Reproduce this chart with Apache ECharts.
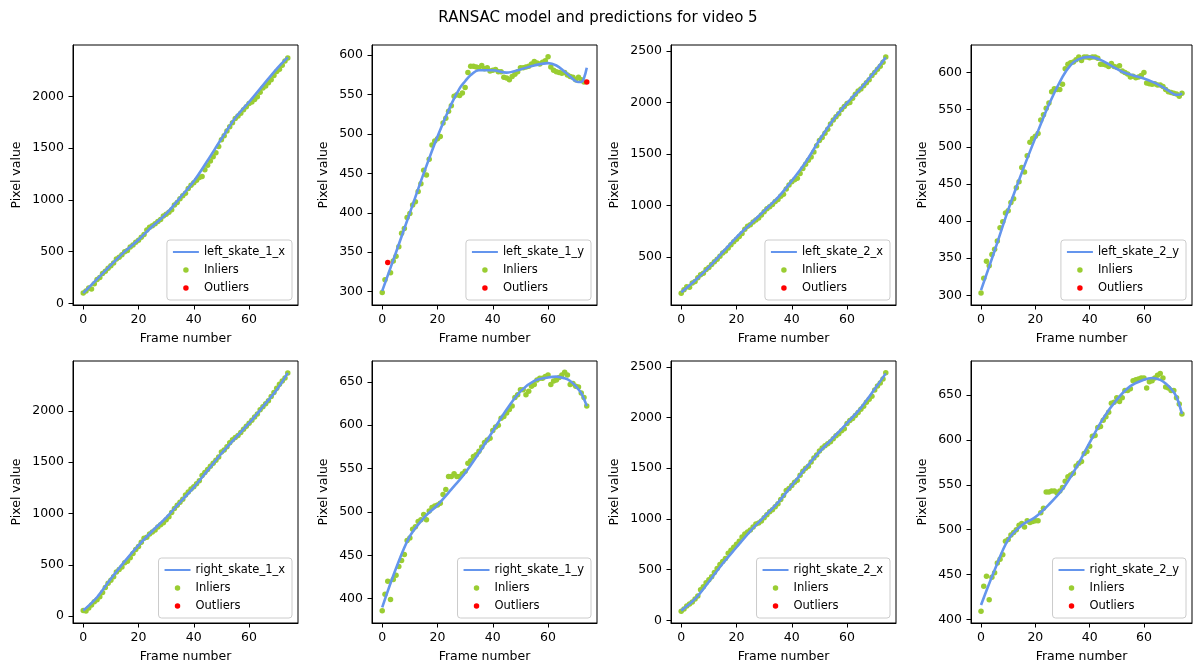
<!DOCTYPE html>
<html><head><meta charset="utf-8">
<script src="https://cdn.jsdelivr.net/npm/echarts@6/dist/echarts.min.js"></script>
<style>html,body{margin:0;padding:0;background:#fff}#c{width:1196px;height:667px}</style>
</head><body><div id="c"></div>
<script>
// ---------- DATA ----------
const titleText = 'RANSAC model and predictions for video 5';
const frames = [0,1,2,3,4,5,6,7,8,9,10,11,12,13,14,15,16,17,18,19,20,21,22,23,24,25,26,27,28,29,30,31,32,33,34,35,36,37,38,39,40,41,42,43,44,45,46,47,48,49,50,51,52,53,54,55,56,57,58,59,60,61,62,63,64,65,66,67,68,69,70,71,72,73,74];
const xTicks = [0,20,40,60];
const fitXStd = [0,5,10,15,20,25,30,35,40,45,50,55,60,65,70,74];

// left_skate_1_x
const ls1x_pts = [100,120,150,140,190,230,250,290,310,340,365,390,430,445,470,500,510,545,565,590,610,640,665,710,735,750,770,790,810,845,860,880,905,950,975,1010,1040,1065,1110,1140,1165,1190,1215,1225,1290,1335,1375,1415,1455,1515,1580,1620,1665,1705,1745,1785,1810,1835,1870,1900,1930,1945,1970,1995,2040,2080,2100,2130,2160,2200,2240,2260,2300,2340,2370];
const ls1x_out = [];
const ls1x_fitX = fitXStd;
const ls1x_fit = [100,235,370,500,615,745,865,1020,1180,1380,1590,1790,1945,2105,2265,2375];
const ls1x_ticks = [0,500,1000,1500,2000];

// left_skate_1_y
const ls1y_pts = [299,315,337,324,339,345,357,374,380,394,399,410,414,427,437,454,448,468,486,491,494,497,514,520,529,536,548,550,549,552,559,578,586,586,585,584,587,583,584,580,581,582,579,579,572,571,569,573,576,579,584,584,585,586,589,592,590,589,591,593,598,585,581,579,578,577,578,575,573,572,569,572,569,566,566];
const ls1y_out = [2,74];
const ls1y_fitX = [0,5,10,15,20,25,28,30,32,35,40,45,50,55,60,63,66,68,70,71,72,73,74];
const ls1y_fit = [301,350,400,450,497,538,558,567,575,581,581,578,582,587,590,587,579,573,567,566,566,571,584];
const ls1y_ticks = [300,350,400,450,500,550,600];

// left_skate_2_x
const ls2x_pts = [150,185,215,210,250,265,300,330,345,380,400,430,455,480,510,540,560,590,620,650,675,700,730,770,800,815,840,860,880,910,940,970,990,1010,1040,1060,1090,1110,1160,1200,1230,1250,1265,1310,1360,1400,1440,1470,1520,1580,1630,1660,1700,1740,1790,1830,1860,1890,1930,1960,1990,2000,2040,2080,2110,2130,2160,2190,2220,2260,2290,2320,2350,2390,2440];
const ls2x_out = [];
const ls2x_fitX = fitXStd;
const ls2x_fit = [160,275,404,548,693,821,949,1080,1240,1420,1635,1832,1993,2137,2298,2436];
const ls2x_ticks = [500,1000,1500,2000,2500];

// left_skate_2_y
const ls2y_pts = [303,323,346,340,355,362,373,391,399,411,414,425,430,445,453,472,466,488,506,511,514,518,536,543,552,559,574,578,577,577,584,605,611,613,614,617,621,616,621,621,620,621,621,619,611,611,610,608,612,608,607,609,602,600,598,594,595,593,594,596,600,586,585,584,585,583,583,581,577,574,573,572,571,568,572];
const ls2y_out = [];
const ls2y_fitX = [0,5,10,15,20,25,30,33,36,40,44,48,52,56,60,64,68,71,72,73,74];
const ls2y_fit = [307,360,415,465,512,557,594,610,618,621,617,609,601,596,592,586,578,571,570,570,572];
const ls2y_ticks = [300,350,400,450,500,550,600];

// right_skate_1_x
const rs1x_pts = [55,50,80,110,140,160,190,230,280,320,350,385,430,455,480,520,535,570,610,650,680,720,760,770,800,820,840,870,890,910,940,970,1010,1050,1080,1110,1140,1180,1210,1240,1260,1290,1320,1370,1400,1430,1460,1490,1520,1550,1600,1620,1650,1690,1720,1740,1760,1790,1820,1850,1880,1910,1940,1970,2010,2040,2070,2100,2140,2180,2220,2260,2290,2320,2370];
const rs1x_out = [];
const rs1x_fitX = fitXStd;
const rs1x_fit = [55,185,365,535,690,830,960,1110,1255,1420,1585,1735,1880,2040,2205,2370];
const rs1x_ticks = [0,500,1000,1500,2000];

// right_skate_1_y
const rs1y_pts = [386,405,420,399,422,427,437,444,451,467,470,480,483,489,491,497,491,501,505,507,508,510,520,526,541,541,544,541,541,544,547,556,559,564,566,570,575,580,583,585,594,598,600,608,610,614,618,622,632,635,641,641,635,639,645,647,652,654,654,656,658,647,651,652,655,658,661,658,647,648,645,644,637,632,622];
const rs1y_out = [];
const rs1y_fitX = [0,5,10,15,20,25,30,35,40,45,50,55,60,63,66,68,70,72,74];
const rs1y_fit = [390,435,472,493,508,526,545,568,593,618,639,651,655,656,654,651,645,637,622];
const rs1y_ticks = [400,450,500,550,600,650];

// right_skate_2_x
const rs2x_pts = [90,110,140,160,180,210,240,300,330,370,400,430,470,510,550,580,610,660,690,720,750,780,820,850,870,890,920,950,960,980,1010,1040,1070,1090,1120,1150,1190,1230,1280,1300,1330,1360,1380,1430,1470,1500,1520,1560,1600,1630,1670,1700,1720,1740,1760,1790,1820,1840,1870,1890,1940,1970,1990,2020,2050,2080,2110,2150,2180,2210,2270,2310,2340,2380,2440];
const rs2x_out = [];
const rs2x_fitX = fitXStd;
const rs2x_fit = [95,210,380,560,720,880,1020,1160,1330,1500,1660,1800,1945,2095,2280,2435];
const rs2x_ticks = [0,500,1000,1500,2000,2500];

// right_skate_2_y
const rs2y_pts = [409,437,448,422,447,452,463,467,472,487,489,494,497,500,505,507,503,510,508,509,510,510,519,524,542,542,543,543,541,543,547,554,559,561,563,571,574,576,585,587,593,604,605,614,615,622,626,631,641,642,647,643,647,655,655,657,666,667,668,669,669,658,665,666,669,672,674,669,659,658,655,655,647,640,629];
const rs2y_out = [];
const rs2y_fitX = [0,5,10,15,20,25,30,35,40,45,50,55,60,63,66,68,70,72,74];
const rs2y_fit = [416,455,489,505,514,528,545,569,597,624,645,660,667,669,667,663,657,648,629];
const rs2y_ticks = [400,450,500,550,600,650];

// ---------- PANELS ----------
const panels = [
  {name:'left_skate_1_x',  pts:ls1x_pts, out:ls1x_out, fx:ls1x_fitX, fy:ls1x_fit, ticks:ls1x_ticks, ymin:-15,  ymax:2495},
  {name:'left_skate_1_y',  pts:ls1y_pts, out:ls1y_out, fx:ls1y_fitX, fy:ls1y_fit, ticks:ls1y_ticks, ymin:283,  ymax:613},
  {name:'left_skate_2_x',  pts:ls2x_pts, out:ls2x_out, fx:ls2x_fitX, fy:ls2x_fit, ticks:ls2x_ticks, ymin:37,   ymax:2556},
  {name:'left_skate_2_y',  pts:ls2y_pts, out:ls2y_out, fx:ls2y_fitX, fy:ls2y_fit, ticks:ls2y_ticks, ymin:287,  ymax:637},
  {name:'right_skate_1_x', pts:rs1x_pts, out:rs1x_out, fx:rs1x_fitX, fy:rs1x_fit, ticks:rs1x_ticks, ymin:-66,  ymax:2486},
  {name:'right_skate_1_y', pts:rs1y_pts, out:rs1y_out, fx:rs1y_fitX, fy:rs1y_fit, ticks:rs1y_ticks, ymin:372,  ymax:674},
  {name:'right_skate_2_x', pts:rs2x_pts, out:rs2x_out, fx:rs2x_fitX, fy:rs2x_fit, ticks:rs2x_ticks, ymin:-27,  ymax:2557},
  {name:'right_skate_2_y', pts:rs2y_pts, out:rs2y_out, fx:rs2y_fitX, fy:rs2y_fit, ticks:rs2y_ticks, ymin:396,  ymax:688}
];

// ---------- LAYOUT / STYLE ----------
const FONT = 'DejaVu Sans';
const colL = [73, 372, 671, 971];
const colW = [225, 225, 225, 221];
const rowT = [45, 361];
const rowH = [260, 262];
const TXT = '#000';
const plain = v => String(v);

const grids = [], xAxes = [], yAxes = [], series = [], legends = [];
panels.forEach((p, i) => {
  const c = i % 4, r = Math.floor(i / 4);
  const gl = colL[c], gt = rowT[r], gh = rowH[r], gw = colW[c];
  grids.push({left: gl, top: gt, width: gw, height: gh, show: true, borderColor: '#000', borderWidth: 1, backgroundColor: 'transparent'});
  xAxes.push({
    type: 'value', gridIndex: i, min: -3.7, max: 77.7,
    name: 'Frame number', nameLocation: 'middle', nameGap: 27,
    nameTextStyle: {fontFamily: FONT, fontSize: 12.5, color: TXT},
    axisLine: {show: true, onZero: false, lineStyle: {color: '#000', width: 1}},
    axisTick: {show: true, length: 4.5, lineStyle: {color: '#000', width: 1}, customValues: xTicks},
    axisLabel: {customValues: xTicks, formatter: plain, margin: 8, fontFamily: FONT, fontSize: 12.5, color: TXT},
    splitLine: {show: false}
  });
  const fourDigit = p.ticks[p.ticks.length - 1] >= 1000;
  yAxes.push({
    type: 'value', gridIndex: i, min: p.ymin, max: p.ymax,
    name: 'Pixel value', nameLocation: 'middle', nameGap: fourDigit ? 50 : 41.5,
    nameTextStyle: {fontFamily: FONT, fontSize: 12.5, color: TXT},
    axisLine: {show: true, onZero: false, lineStyle: {color: '#000', width: 1}},
    axisTick: {show: true, length: 4.5, lineStyle: {color: '#000', width: 1}, customValues: p.ticks},
    axisLabel: {customValues: p.ticks, formatter: plain, margin: 9, fontFamily: FONT, fontSize: 12.5, color: TXT},
    splitLine: {show: false}
  });
  series.push({
    type: 'line', name: p.name, xAxisIndex: i, yAxisIndex: i,
    data: p.fx.map((x, k) => [x, p.fy[k]]),
    smooth: 0.35, showSymbol: false, symbol: 'none',
    lineStyle: {color: '#6495ED', width: 2.6}, itemStyle: {color: '#6495ED'}, z: 3
  });
  series.push({
    type: 'scatter', name: 'Inliers', xAxisIndex: i, yAxisIndex: i,
    data: frames.filter(f => p.out.indexOf(f) < 0).map(f => [f, p.pts[f]]),
    symbolSize: 5.5, itemStyle: {color: '#9ACD32', opacity: 1}, z: 2
  });
  series.push({
    type: 'scatter', name: 'Outliers', xAxisIndex: i, yAxisIndex: i,
    data: p.out.map(f => [f, p.pts[f]]),
    symbolSize: 5.5, itemStyle: {color: '#FF0000', opacity: 1}, z: 2
  });
  legends.push({
    data: [
      {name: p.name, icon: 'path://M0,0L40,0L40,3L0,3Z'},
      {name: 'Inliers', icon: 'circle'},
      {name: 'Outliers', icon: 'circle'}
    ],
    orient: 'vertical', align: 'left',
    right: 1196 - (gl + gw) + 6, bottom: 667 - (gt + gh) + 5,
    itemWidth: 26, itemHeight: 5.5, itemGap: 4,
    padding: [5, 7, 5, 6],
    backgroundColor: 'rgba(255,255,255,0.8)', borderColor: '#cccccc', borderWidth: 1, borderRadius: 3,
    textStyle: {fontFamily: FONT, fontSize: 11.5, color: TXT, lineHeight: 14},
    selectedMode: false
  });
});

const chart = echarts.init(document.getElementById('c'), null, {renderer: 'canvas'});
chart.setOption({
  animation: false,
  backgroundColor: '#ffffff',
  title: {text: titleText, left: 'center', top: 6, textStyle: {fontFamily: FONT, fontSize: 15, fontWeight: 'normal', color: TXT}},
  grid: grids, xAxis: xAxes, yAxis: yAxes, series: series, legend: legends
});
</script></body></html>
